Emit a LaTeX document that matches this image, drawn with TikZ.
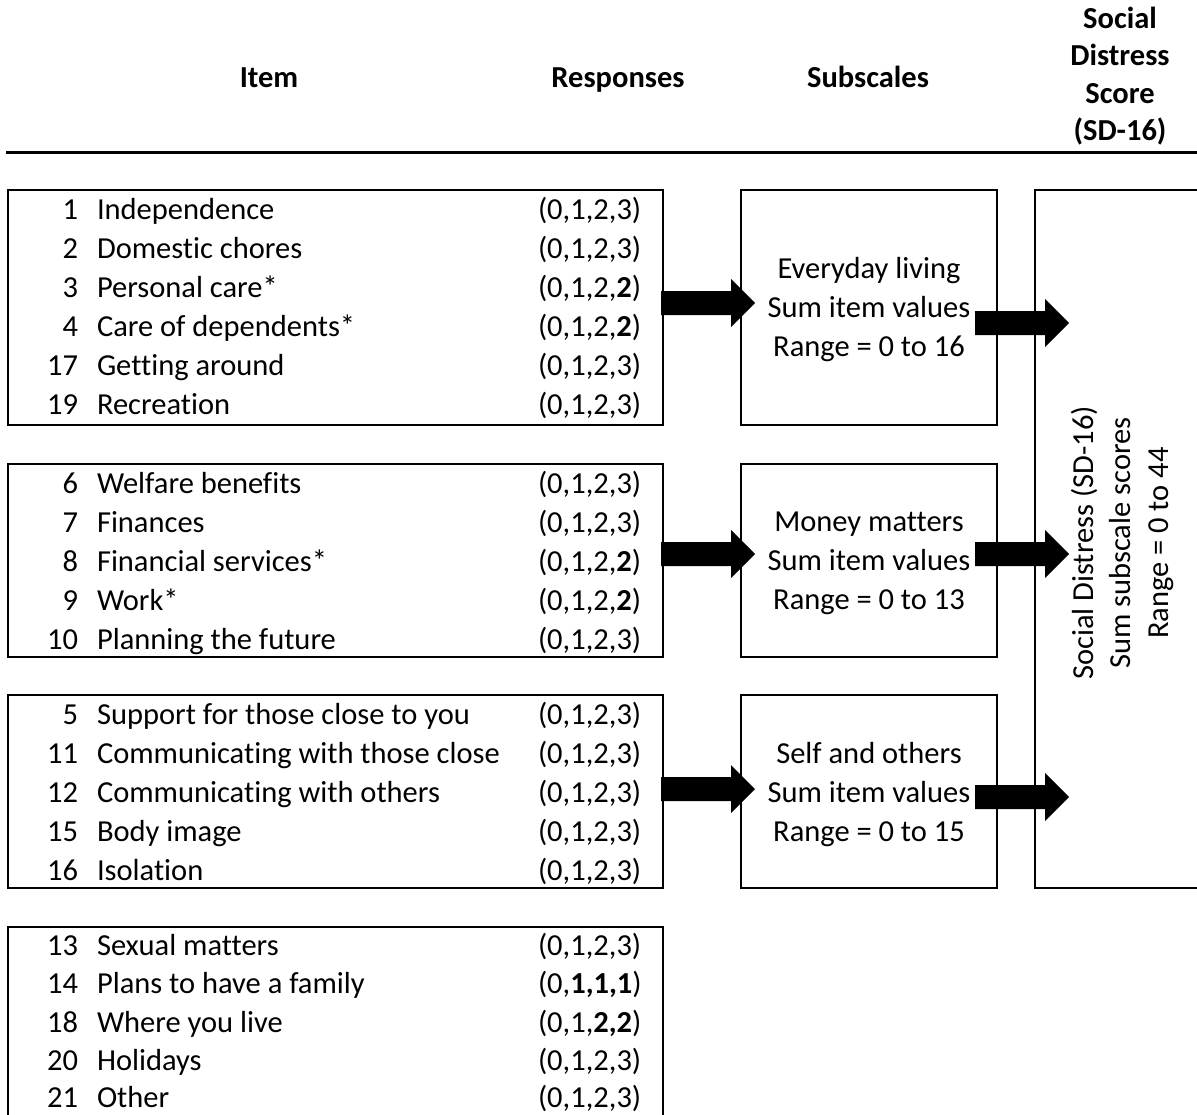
\documentclass[tikz,border=0pt]{standalone}
\usepackage{fontspec}
\setmainfont[Ligatures={NoCommon,NoContextual}]{Carlito}
\usetikzlibrary{calc}
\newcommand\itemrow[4]{%
  \node[num] (n#2) at (78,#1) {#2};
  \node[lbl] (t#2) at (97,#1) {#3};
  \node[lbl] (r#2) at (538,#1) {#4};}
\begin{document}
\begin{tikzpicture}[x=1pt,y=-1pt,
  every node/.style={inner sep=0pt, outer sep=0pt, font=\fontsize{30.5}{38}\selectfont},
  num/.style={anchor=base east},
  lbl/.style={anchor=base west},
  ctr/.style={anchor=base},
  hdr/.style={anchor=base, font=\fontsize{30.5}{38}\selectfont\bfseries},
  frame/.style={draw, line width=2pt, anchor=north west},
  rulestyle/.style={line width=3pt},
  fatarrow/.pic={\fill (0,-12) -- (70,-12) -- (70,-24) -- (94,0) -- (70,24) -- (70,12) -- (0,12) -- cycle;}
]
\useasboundingbox (0,0) rectangle (1197,1114);
\clip (0,0) rectangle (1197,1114);

% header
\node[hdr] (hItem) at (269,87) {Item};
\node[hdr] (hResp) at (618,87) {Responses};
\node[hdr] (hSub) at (868,87) {Subscales};
\node[hdr] (hSD1) at (1120,28) {Social};
\node[hdr] (hSD2) at (1120,65.5) {Distress};
\node[hdr] (hSD3) at (1120,103) {Score};
\node[hdr] (hSD4) at (1120,140.5) {(SD-16)};
\draw[rulestyle] (6,152) -- (1197,152);

% boxes
\node[frame, minimum width=655, minimum height=235] (b1) at (8,190) {};
\node[frame, minimum width=655, minimum height=193] (b2) at (8,464) {};
\node[frame, minimum width=655, minimum height=193] (b3) at (8,695) {};
\node[frame, minimum width=655, minimum height=210] (b4) at (8,927) {};
\node[frame, minimum width=256, minimum height=235] (s1) at (741,190) {};
\node[frame, minimum width=256, minimum height=193] (s2) at (741,464) {};
\node[frame, minimum width=256, minimum height=193] (s3) at (741,695) {};
\node[frame, minimum width=220, minimum height=698] (big) at (1035,190) {};

% items
\itemrow{219}{1}{Independence}{(0,1,2,3)}
\itemrow{258}{2}{Domestic chores}{(0,1,2,3)}
\itemrow{297}{3}{Personal care*}{(0,1,2,\textbf{2})}
\itemrow{336}{4}{Care of dependents*}{(0,1,2,\textbf{2})}
\itemrow{375}{17}{Getting around}{(0,1,2,3)}
\itemrow{414}{19}{Recreation}{(0,1,2,3)}

\itemrow{493}{6}{Welfare benefits}{(0,1,2,3)}
\itemrow{532}{7}{Finances}{(0,1,2,3)}
\itemrow{571}{8}{Financial services*}{(0,1,2,\textbf{2})}
\itemrow{610}{9}{Work*}{(0,1,2,\textbf{2})}
\itemrow{649}{10}{Planning the future}{(0,1,2,3)}

\itemrow{724}{5}{Support for those close to you}{(0,1,2,3)}
\itemrow{763}{11}{Communicating with those close}{(0,1,2,3)}
\itemrow{802}{12}{Communicating with others}{(0,1,2,3)}
\itemrow{841}{15}{Body image}{(0,1,2,3)}
\itemrow{880}{16}{Isolation}{(0,1,2,3)}

\itemrow{955}{13}{Sexual matters}{(0,1,2,3)}
\itemrow{993.5}{14}{Plans to have a family}{(0,\textbf{1,1,1})}
\itemrow{1032}{18}{Where you live}{(0,1,\textbf{2,2})}
\itemrow{1070.5}{20}{Holidays}{(0,1,2,3)}
\itemrow{1107.5}{21}{Other}{(0,1,2,3)}

% subscales
\node[ctr] (s1a) at (869,278) {Everyday living};
\node[ctr] (s1b) at (869,317) {Sum item values};
\node[ctr] (s1c) at (869,356) {Range = 0 to 16};
\node[ctr] (s2a) at (869,531) {Money matters};
\node[ctr] (s2b) at (869,570) {Sum item values};
\node[ctr] (s2c) at (869,609) {Range = 0 to 13};
\node[ctr] (s3a) at (869,763) {Self and others};
\node[ctr] (s3b) at (869,802) {Sum item values};
\node[ctr] (s3c) at (869,841) {Range = 0 to 15};

% total score (rotated)
\node[ctr, rotate=90] (g1) at (1093,543) {Social Distress (SD-16)};
\node[ctr, rotate=90] (g2) at (1130.5,543) {Sum subscale scores};
\node[ctr, rotate=90] (g3) at (1168,543) {Range = 0 to 44};

% arrows
\path (b1.east) ++(-2,-4.5) pic {fatarrow};
\path (b2.east) ++(-2,-6.5) pic {fatarrow};
\path (b3.east) ++(-2,-2.5) pic {fatarrow};
\path (s1.east) ++(-22,15.5) pic {fatarrow};
\path (s2.east) ++(-22,-6.5) pic {fatarrow};
\path (s3.east) ++(-22,5.5) pic {fatarrow};
\end{tikzpicture}
\end{document}
